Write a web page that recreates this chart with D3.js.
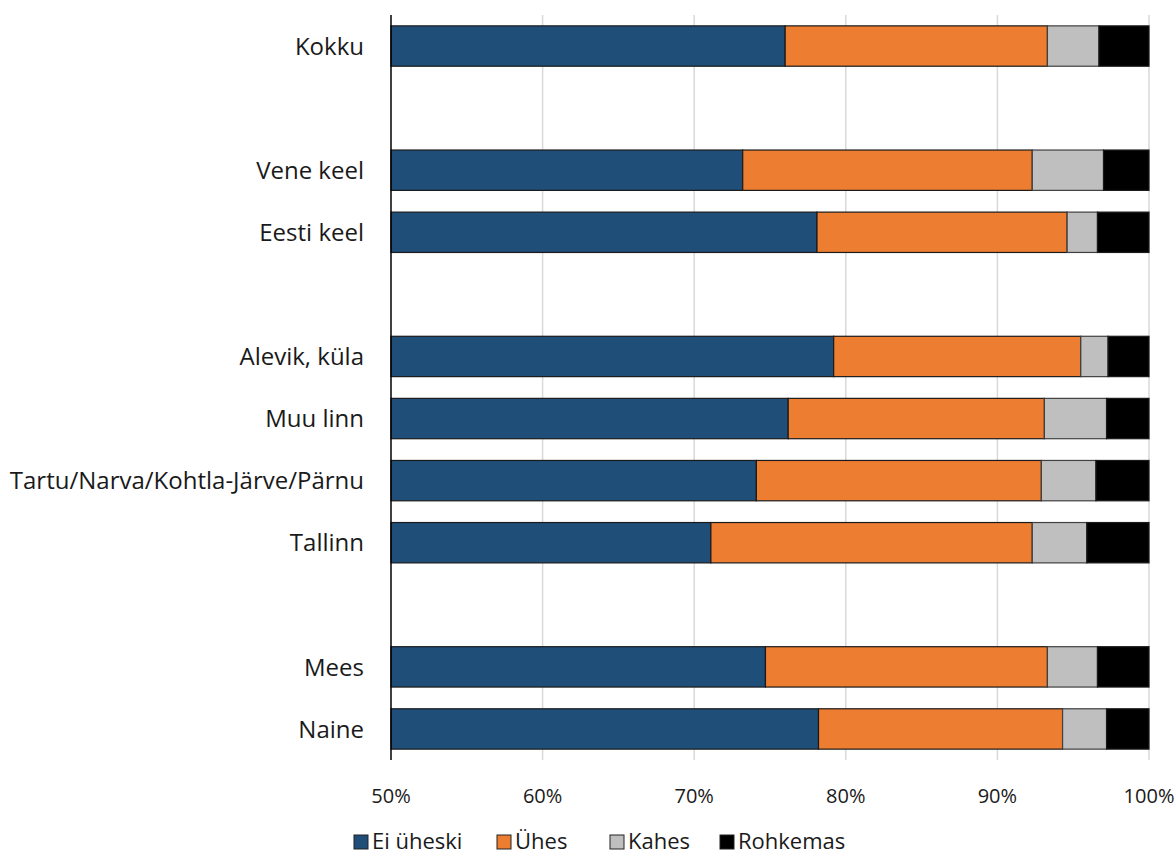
<!DOCTYPE html>
<html><head><meta charset="utf-8">
<script src="https://cdn.jsdelivr.net/npm/d3@7"></script>
<style>body{margin:0;background:#fff}svg text{font-family:"Open Sans",Lato,sans-serif}</style>
</head><body><svg id="c" width="1176" height="855"></svg>
<script>
const categories = ["Kokku", "", "Vene keel", "Eesti keel", "", "Alevik, küla", "Muu linn", "Tartu/Narva/Kohtla-Järve/Pärnu", "Tallinn", "", "Mees", "Naine"];
const seriesNames = ["Ei üheski", "Ühes", "Kahes", "Rohkemas"];
const eiUheski = [76.0, null, 73.2, 78.1, null, 79.2, 76.2, 74.1, 71.1, null, 74.7, 78.2];
const uhes     = [17.3, null, 19.1, 16.5, null, 16.3, 16.9, 18.8, 21.2, null, 18.6, 16.1];
const kahes    = [3.4,  null, 4.7,  2.0,  null, 1.8,  4.1,  3.6,  3.6,  null, 3.3,  2.9];
const rohkemas = [3.3,  null, 3.0,  3.4,  null, 2.7,  2.8,  3.5,  4.1,  null, 3.4,  2.8];
const colors = ["#1f4e79", "#ed7d31", "#bfbfbf", "#000000"];
const ticks = [50, 60, 70, 80, 90, 100];

(function () {
const svg = d3.select("#c");
const mLeft = 391, mRight = 1149, mTop = 15, mBottom = 760;
const x = d3.scaleLinear().domain([50, 100]).range([mLeft, mRight]);
const y = d3.scaleBand().domain(d3.range(categories.length)).range([mTop, mBottom]).paddingInner(0.35).paddingOuter(0.175);

// grid
svg.append("g").selectAll("line").data(ticks.slice(1)).join("line")
  .attr("x1", d => x(d)).attr("x2", d => x(d)).attr("y1", mTop).attr("y2", mBottom)
  .attr("stroke", "#d9d9d9").attr("stroke-width", 1.5);

const series = [eiUheski, uhes, kahes, rohkemas];
const segs = [];
categories.forEach((c, i) => {
  if (eiUheski[i] == null) return;
  let acc = 0;
  series.forEach((s, k) => {
    const v0 = acc; acc += s[i];
    segs.push({i, k, v0: k === 0 ? 50 : v0, v1: k === 3 ? 100 : acc});
  });
});

svg.append("g").selectAll("rect").data(segs).join("rect")
  .attr("x", d => x(d.v0)).attr("width", d => x(d.v1) - x(d.v0))
  .attr("y", d => y(d.i)).attr("height", y.bandwidth())
  .attr("fill", d => colors[d.k])
  .attr("stroke", d => d.k === 2 ? "#404040" : "#1a1a1a").attr("stroke-width", 1.2);

// y axis line
svg.append("line").attr("x1", mLeft).attr("x2", mLeft).attr("y1", mTop).attr("y2", mBottom)
  .attr("stroke", "#000").attr("stroke-width", 1.5);

// category labels
svg.append("g").selectAll("text").data(categories.map((c, i) => ({c, i})).filter(d => d.c)).join("text")
  .attr("x", mLeft - 27).attr("y", d => y(d.i) + y.bandwidth() / 2).attr("dy", "0.36em")
  .attr("text-anchor", "end").attr("font-size", 24).attr("fill", "#1a1a1a").text(d => d.c);

// x tick labels
svg.append("g").selectAll("text").data(ticks).join("text")
  .attr("x", d => x(d)).attr("y", 803).attr("text-anchor", "middle")
  .attr("font-size", 20).attr("fill", "#1a1a1a").text(d => d + "%");

// legend
const legX = [354, 497, 610, 720];
const lg = svg.append("g").selectAll("g").data(seriesNames).join("g")
  .attr("transform", (d, i) => `translate(${legX[i]},835)`);
lg.append("rect").attr("width", 14).attr("height", 14).attr("fill", (d, i) => colors[i])
  .attr("stroke", "#222").attr("stroke-width", 1);
lg.append("text").attr("x", 18).attr("y", 14).attr("font-size", 22).attr("fill", "#1a1a1a").text(d => d);
})();
</script></body></html>
